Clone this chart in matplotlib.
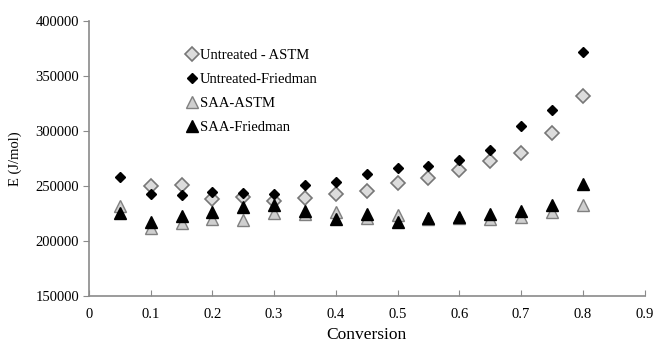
import matplotlib
matplotlib.use("Agg")
import matplotlib.pyplot as plt

plt.rcParams['font.family'] = ['Liberation Serif', 'DejaVu Serif']

# conversion levels
conv = [0.05, 0.1, 0.15, 0.2, 0.25, 0.3, 0.35, 0.4, 0.45, 0.5, 0.55, 0.6, 0.65, 0.7, 0.75, 0.8]
conv_astm = conv[1:]

# activation energy, J/mol
untreated_astm = [249900, 250500, 237700, 240200, 236500, 238900, 242600, 245700,
                  253000, 256700, 264600, 272600, 279900, 298200, 331500]
untreated_friedman = [257600, 242600, 241700, 244100, 243800, 242300, 251200, 253300,
                      260300, 265800, 267700, 273500, 282900, 304600, 318700, 371600]
saa_astm = [231900, 211700, 216000, 220000, 218800, 225500, 224000, 226400,
            221000, 223300, 220000, 221000, 220000, 221800, 225800, 232200]
saa_friedman = [224900, 217200, 223000, 225800, 230400, 232200, 227300, 220000,
                224600, 217200, 221200, 221800, 224600, 227000, 232200, 252100]

fig = plt.figure(figsize=(6.54, 3.44), dpi=100)
ax = fig.add_axes([0.136, 0.14, 0.8495, 0.7995])

ax.plot(conv_astm, untreated_astm, 'D', ms=7, mfc='#dcdcdc', mec='#777777', mew=1.2,
        linestyle='none', label='Untreated - ASTM')
ax.plot(conv, untreated_friedman, 'D', ms=5.3, mfc='black', mec='black',
        linestyle='none', label='Untreated-Friedman')
ax.plot(conv, saa_astm, '^', ms=8, mfc='#cfcfcf', mec='#808080', mew=1.0,
        linestyle='none', label='SAA-ASTM')
ax.plot(conv, saa_friedman, '^', ms=8, mfc='black', mec='black',
        linestyle='none', label='SAA-Friedman')

ax.set_xlim(0, 0.9)
ax.set_ylim(150000, 400000)
ax.set_xticks([0, 0.1, 0.2, 0.3, 0.4, 0.5, 0.6, 0.7, 0.8, 0.9])
ax.set_xticklabels(['0', '0.1', '0.2', '0.3', '0.4', '0.5', '0.6', '0.7', '0.8', '0.9'])
ax.set_yticks(range(150000, 400001, 50000))

for s in ['top', 'right']:
    ax.spines[s].set_visible(False)
for s in ['left', 'bottom']:
    ax.spines[s].set_color('#8a8a8a')
    ax.spines[s].set_linewidth(1.2)
ax.tick_params(axis='y', direction='out', length=4, color='#8a8a8a', labelsize=10.5, pad=3)
ax.tick_params(axis='x', direction='in', length=4, color='#8a8a8a', labelsize=10.5, pad=9)

ax.set_xlabel('Conversion', fontsize=12.5, labelpad=4)
ax.set_ylabel('E (J/mol)', fontsize=10.5, labelpad=10)

leg = ax.legend(loc='upper left', bbox_to_anchor=(0.168, 0.92), frameon=False,
                fontsize=10.5, handlelength=0.6, handletextpad=0.2,
                labelspacing=0.75, borderaxespad=0)

fig.savefig('out.png', dpi=100)
